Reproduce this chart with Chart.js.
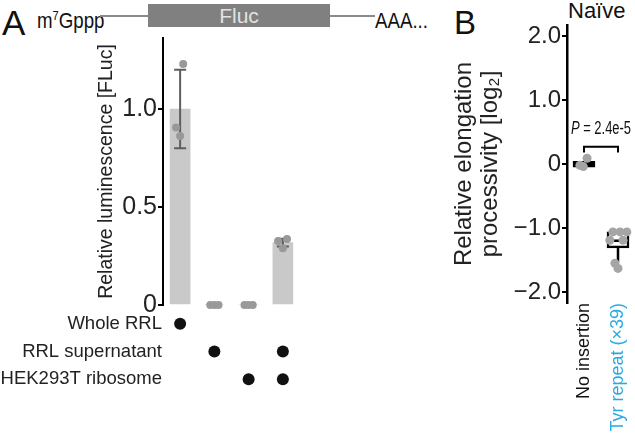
<!DOCTYPE html>
<html><head><meta charset="utf-8">
<script src="https://cdn.jsdelivr.net/npm/chart.js@4/dist/chart.umd.min.js"></script>
<style>
html,body{margin:0;padding:0;background:#fff;width:635px;height:439px;overflow:hidden;}
body{position:relative;}
.t{position:absolute;line-height:1;white-space:nowrap;color:#111;font-family:'Liberation Sans',Arial,Helvetica,sans-serif;}
.c{transform:scaleX(0.85);transform-origin:0 0;}
canvas{position:absolute;}
.ln{position:absolute;height:2px;background:#8a8a8a;}
</style></head><body>
<div class="t" style="left:2px;top:5px;font-size:35px;">A</div>
<div class="t c" style="left:37px;top:10px;font-size:22px;">m<span style="font-size:13px;position:relative;top:-8px;">7</span>Gppp</div>
<div class="ln" style="left:100px;top:15px;width:48px;"></div>
<div class="t" style="left:148px;top:4px;width:182px;height:23px;background:#808080;color:#e2e2e2;font-size:21px;text-align:center;line-height:24px;">Fluc</div>
<div class="ln" style="left:330px;top:15px;width:45px;"></div>
<div class="t c" style="left:375px;top:10px;font-size:22px;">AAA...</div>
<div class="t" style="left:454px;top:6px;font-size:33px;">B</div>
<div class="t" style="left:568px;top:0px;font-size:22px;">Naïve</div>
<canvas id="cA" width="300" height="439" style="left:0;top:0;"></canvas>
<canvas id="cM" width="300" height="134" style="left:0;top:305px;"></canvas>
<canvas id="cB" width="205" height="439" style="left:430px;top:0;"></canvas>
<script>
// ---------- Panel A data ----------
const groupsA = ['1', '2', '3', '4'];
const meanA = [1.0, 0, 0, 0.318];
const sdA = [0.2, 0, 0, 0.02];
const repA = [[1.23, 0.905, 0.862], [0, 0, 0], [0, 0, 0], [0.327, 0.337, 0.29]];
const jitA = [[0.09, -0.12, 0.0], [-0.12, 0, 0.12], [-0.12, 0, 0.12], [-0.14, 0.12, 0.0]];
const yTicksA = [0, 0.5, 1.0];
const yMaxA = 1.362;
const titleA = 'Relative luminescence [FLuc]';

// ---------- Condition matrix ----------
const matrixRows = ['Whole RRL', 'RRL supernatant', 'HEK293T ribosome'];
const wholeRRL = [1, 0, 0, 0];
const rrlSupernatant = [0, 1, 0, 1];
const hekRibosome = [0, 0, 1, 1];

// ---------- Panel B data ----------
const groupsB = ['No insertion', 'Tyr repeat (\u00d739)'];
const noInsertion = [0.09, -0.02, -0.04];
const tyrRepeat = [-1.06, -1.06, -1.06, -1.19, -1.19, -1.55, -1.63];
const jitB = [[0.09, -0.12, -0.02], [-0.15, 0.06, 0.26, -0.24, 0.15, -0.09, 0.0]];
const boxQ1 = [-0.05, -1.31];
const boxQ3 = [0.04, -1.06];
const boxMedian = [0.0, -1.2];
const whiskerLow = [-0.05, -1.53];
const whiskerHigh = [0.04, -1.06];
const yTicksB = [-2, -1, 0, 1, 2];
const yRangeB = [-2.17, 2.17];
const pValue = '2.4e-5';
const bracketLevel = 0.27;
const titleB = ['Relative elongation', 'processivity [log\u2082]'];

const SANS = "'Liberation Sans',Arial,Helvetica,sans-serif";
Chart.defaults.devicePixelRatio = 1;
Chart.defaults.animation = false;
Chart.defaults.responsive = false;
Chart.defaults.plugins.legend.display = false;
Chart.defaults.plugins.tooltip.enabled = false;
const noPad = s => { s.paddingLeft = 0; s.paddingRight = 0; s.paddingTop = 0; s.paddingBottom = 0; };

// ---------- Chart A ----------
const ptsA = [];
repA.forEach((arr, g) => arr.forEach((v, k) => ptsA.push({x: g + jitA[g][k], y: v})));

const errPlugin = {
  id: 'errA',
  afterDatasetDraw(chart, args) {
    if (args.index !== 0) return;
    const {ctx, scales: {x, y}} = chart;
    ctx.save(); ctx.strokeStyle = '#5e5e5e'; ctx.lineWidth = 2;
    meanA.forEach((m, i) => {
      if (!sdA[i]) return;
      const px = x.getPixelForValue(i);
      const yt = y.getPixelForValue(m + sdA[i]), yb = y.getPixelForValue(m - sdA[i]);
      ctx.beginPath();
      ctx.moveTo(px, yt); ctx.lineTo(px, yb);
      ctx.moveTo(px - 6, yt); ctx.lineTo(px + 6, yt);
      ctx.moveTo(px - 6, yb); ctx.lineTo(px + 6, yb);
      ctx.stroke();
    });
    ctx.restore();
  }
};

new Chart(document.getElementById('cA'), {
  type: 'bar',
  data: {
    labels: groupsA,
    datasets: [
      {type: 'bar', data: meanA, backgroundColor: '#c9c9c9', barThickness: 20, maxBarThickness: 20, grouped: false, order: 2},
      {type: 'scatter', xAxisID: 'xp', data: ptsA, backgroundColor: '#999999', borderWidth: 0, pointRadius: 4, clip: false, order: 1}
    ]
  },
  options: {
    layout: {autoPadding: false, padding: {left: 0, top: 38, right: 0, bottom: 134}},
    scales: {
      x: {display: false, offset: true},
      xp: {type: 'linear', display: false, min: -0.5, max: 3.5, offset: false, grid: {offset: false}},
      y: {
        min: 0, max: yMaxA,
        afterFit: s => { s.width = 163; noPad(s); },
        afterBuildTicks: s => { s.ticks = yTicksA.map(v => ({value: v})); },
        ticks: {font: {family: SANS, size: 25}, color: '#222', padding: 1,
          callback: v => v === 0 ? '0' : v.toFixed(1)},
        grid: {display: true, drawOnChartArea: false, drawTicks: true, tickLength: 5, color: '#000', lineWidth: 2},
        border: {display: true, color: '#000', width: 2},
        title: {display: true, text: titleA, font: {family: SANS, size: 19.5}, color: '#222', padding: {top: 95, bottom: 0}}
      }
    }
  },
  plugins: [errPlugin]
});

// ---------- Matrix ----------
const ptsM = [];
[wholeRRL, rrlSupernatant, hekRibosome].forEach((row, r) =>
  row.forEach((v, i) => { if (v) ptsM.push({x: groupsA[i], y: matrixRows[r]}); }));

new Chart(document.getElementById('cM'), {
  type: 'scatter',
  data: {datasets: [{data: ptsM, backgroundColor: '#111', borderWidth: 0, pointRadius: 6, clip: false}]},
  options: {
    layout: {autoPadding: false, padding: {left: 0, top: 5, right: 0, bottom: 46}},
    scales: {
      x: {type: 'category', labels: groupsA, offset: true, display: false},
      y: {
        type: 'category', labels: matrixRows, offset: true,
        afterFit: s => { s.width = 163; noPad(s); },
        grid: {display: false, drawTicks: false},
        border: {display: false},
        ticks: {font: {family: SANS, size: 18.5}, color: '#222', padding: 1}
      }
    }
  }
});

// ---------- Chart B ----------
const ptsB = [];
[noInsertion, tyrRepeat].forEach((arr, g) => arr.forEach((v, k) => ptsB.push({x: g + jitB[g][k], y: v})));

const boxPlugin = {
  id: 'boxB',
  afterDatasetDraw(chart, args) {
    if (args.index !== 0) return;
    const {ctx, scales: {x, y}} = chart;
    ctx.save(); ctx.strokeStyle = '#000'; ctx.lineWidth = 2.5;
    groupsB.forEach((g, i) => {
      const px = x.getPixelForValue(i);
      ctx.beginPath();
      ctx.moveTo(px - 10, y.getPixelForValue(boxMedian[i]));
      ctx.lineTo(px + 10, y.getPixelForValue(boxMedian[i]));
      ctx.moveTo(px, y.getPixelForValue(boxQ1[i]));
      ctx.lineTo(px, y.getPixelForValue(whiskerLow[i]));
      ctx.moveTo(px, y.getPixelForValue(boxQ3[i]));
      ctx.lineTo(px, y.getPixelForValue(whiskerHigh[i]));
      ctx.stroke();
    });
    ctx.restore();
  },
  afterDatasetsDraw(chart) {
    const {ctx, scales: {x, y}} = chart;
    const x0 = x.getPixelForValue(0), x1 = x.getPixelForValue(1);
    const yb = y.getPixelForValue(bracketLevel), yl = y.getPixelForValue(bracketLevel - 0.09);
    ctx.save(); ctx.strokeStyle = '#000'; ctx.lineWidth = 2;
    ctx.beginPath();
    ctx.moveTo(x0, yl); ctx.lineTo(x0, yb); ctx.lineTo(x1, yb); ctx.lineTo(x1, yl);
    ctx.stroke();
    const ty = y.getPixelForValue(bracketLevel + 0.2);
    const sc = 0.72;
    ctx.fillStyle = '#111'; ctx.textBaseline = 'alphabetic';
    ctx.font = 'italic 18px ' + SANS;
    const pW = ctx.measureText('P').width;
    ctx.font = '18px ' + SANS;
    const rest = ' = ' + pValue;
    const rW = ctx.measureText(rest).width;
    const cx = (x0 + x1) / 2;
    ctx.translate(cx, ty); ctx.scale(sc, 1);
    const sx = -(pW + rW) / 2;
    ctx.font = 'italic 18px ' + SANS; ctx.fillText('P', sx, 0);
    ctx.font = '18px ' + SANS; ctx.fillText(rest, sx + pW, 0);
    ctx.restore();
  }
};

new Chart(document.getElementById('cB'), {
  type: 'bar',
  data: {
    labels: groupsB,
    datasets: [
      {type: 'bar', data: groupsB.map((_, i) => [boxQ1[i], boxQ3[i]]), backgroundColor: '#ffffff', borderColor: '#000', borderWidth: 2.5, borderSkipped: false, barThickness: 22, maxBarThickness: 22, grouped: false, order: 2},
      {type: 'scatter', xAxisID: 'xp', data: ptsB, backgroundColor: '#a5a5a5', borderWidth: 0, pointRadius: 4.5, clip: false, order: 1}
    ]
  },
  options: {
    layout: {autoPadding: false, padding: {left: 0, top: 25, right: 0, bottom: 0}},
    scales: {
      x: {
        offset: true,
        afterFit: s => { s.height = 136; noPad(s); },
        grid: {display: false, drawTicks: false},
        border: {display: false},
        ticks: {autoSkip: false, maxRotation: 90, minRotation: 90, padding: 0,
          font: {family: SANS, size: 18},
          color: c => c.index === 1 ? '#2aaae2' : '#111'}
      },
      xp: {type: 'linear', display: false, min: -0.5, max: 1.5, offset: false, grid: {offset: false}},
      y: {
        min: yRangeB[0], max: yRangeB[1],
        afterFit: s => { s.width = 137; noPad(s); },
        afterBuildTicks: s => { s.ticks = yTicksB.map(v => ({value: v})); },
        ticks: {font: {family: SANS, size: 24}, color: '#222', padding: 1,
          callback: v => v === 0 ? '0' : (v < 0 ? '\u2212' : '') + Math.abs(v).toFixed(1)},
        grid: {display: true, drawOnChartArea: false, drawTicks: true, tickLength: 5, color: '#000', lineWidth: 2},
        border: {display: true, color: '#000', width: 2.5},
        title: {display: true, text: titleB, font: {family: SANS, size: 24, lineHeight: 1.08}, color: '#222', padding: {top: 21, bottom: 0}}
      }
    }
  },
  plugins: [boxPlugin]
});
</script>
</body></html>
